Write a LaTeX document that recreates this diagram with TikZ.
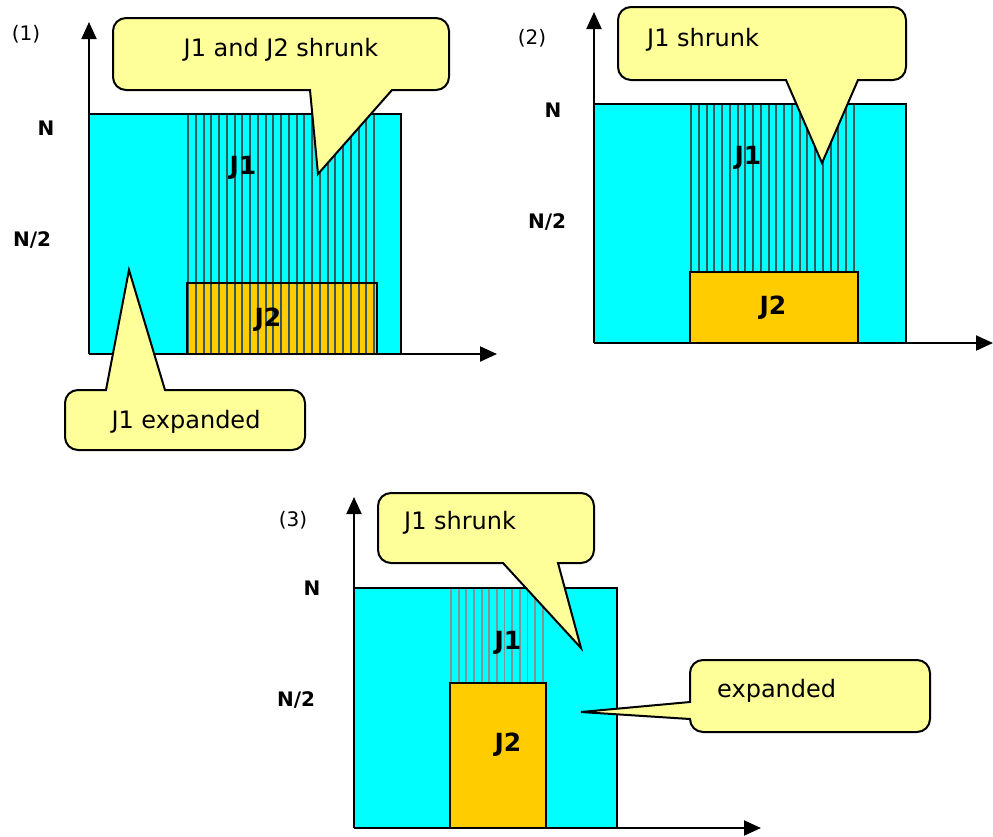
\documentclass[tikz,border=0pt]{standalone}
\usepackage{fontspec}
\setmainfont{DejaVu Sans}
\usetikzlibrary{arrows.meta}

\definecolor{boxcyan}{HTML}{00FFFF}
\definecolor{jobgold}{HTML}{FFCC00}
\definecolor{noteyellow}{HTML}{FFFF99}
\definecolor{hatchdark}{HTML}{345A5A}
\definecolor{hatchlight}{HTML}{7F9494}

\begin{document}
\begin{tikzpicture}[x=1pt, y=-1pt,
    axis/.style={line width=2pt, -{Triangle[length=17pt,width=15pt]}},
    machine/.style={fill=boxcyan},
    edge/.style={line width=2pt},
    jobbox/.style={fill=jobgold, draw=black, line width=2pt},
    hatch/.style={draw=hatchdark, line width=2pt},
    hatchsoft/.style={draw=hatchlight, line width=1.8pt},
    note/.style={draw=black, fill=noteyellow, line width=2pt, line join=miter},
    notetext/.style={font=\fontsize{24}{28}\selectfont, inner sep=0pt},
    joblabel/.style={font=\fontsize{25}{28}\selectfont\bfseries, inner sep=0pt},
    ticklabel/.style={font=\fontsize{20}{24}\selectfont\bfseries, inner sep=0pt},
    panel/.style={font=\fontsize{20}{24}\selectfont, inner sep=0pt}]
    \useasboundingbox (0,0) rectangle (993,836);

    % ---------------- (1) ----------------
    % Draw the machine area
    \fill[machine] (89,114) rectangle (401,354);
    \fill[jobgold] (187,283) rectangle (377,354);
    % J1 stripes over the whole middle part
    \foreach \k in {0,...,24}
        \draw[hatch] ({188+7.75*\k},114) -- ++(0,240);
    \draw[jobbox, fill=none] (187,283) rectangle (377,354);
    \draw[edge] (89,114) -- (401,114) -- (401,354);
    % Draw the axes
    \draw[axis] (89,354) -- (89,22);
    \draw[axis] (89,354) -- (497,354);
    \node[panel] (pa) at (26,34) {(1)};
    \node[ticklabel] (na) at (46,128) {N};
    \node[ticklabel] (ha) at (32,240) {N/2};
    \node[joblabel] (ja) at (243,168) {J1};
    \node[joblabel] (ka) at (268,320) {J2};
    % Callouts
    \draw[note] (318,174) -- (392,90)
        {[rounded corners=13pt] -- (449,90) -- (449,18) -- (113,18) -- (113,90)} -- (310,90) -- cycle;
    \node[notetext] (ca) at (281,50) {J1 and J2 shrunk};
    \draw[note] (129,270) -- (106,390)
        {[rounded corners=13pt] -- (65,390) -- (65,450) -- (305,450) -- (305,390)} -- (165,390) -- cycle;
    \node[notetext] (ea) at (186,422) {J1 expanded};

    % ---------------- (2) ----------------
    \fill[machine] (594,104) rectangle (906,343);
    \foreach \k in {0,...,21}
        \draw[hatch] ({691+7.75*\k},104) -- ++(0,168);
    \draw[jobbox] (690,272) rectangle (858,343);
    \draw[edge] (594,104) -- (906,104) -- (906,343);
    \draw[axis] (594,343) -- (594,12);
    \draw[axis] (594,343) -- (993,343);
    \node[panel] (pb) at (532,38) {(2)};
    \node[ticklabel] (nb) at (553,110) {N};
    \node[ticklabel] (hb) at (547,222) {N/2};
    \node[joblabel] (jb) at (748,158) {J1};
    \node[joblabel] (kb) at (773,308) {J2};
    \draw[note] (822,163) -- (858,80)
        {[rounded corners=13pt] -- (906,80) -- (906,7) -- (618,7) -- (618,80)} -- (786,80) -- cycle;
    \node[notetext, anchor=west] (cb) at (647,40) {J1 shrunk};

    % ---------------- (3) ----------------
    \fill[machine] (354,588) rectangle (617,828);
    \foreach \k in {0,...,12}
        \draw[hatchsoft] ({451+7.65*\k},588) -- ++(0,95);
    \draw[jobbox] (450,683) rectangle (546,828);
    \draw[edge] (354,588) -- (617,588) -- (617,828);
    \draw[axis] (354,828) -- (354,497);
    \draw[axis] (354,828) -- (761,828);
    \node[panel] (pc) at (293,520) {(3)};
    \node[ticklabel] (nc) at (312,588) {N};
    \node[ticklabel] (hc) at (296,700) {N/2};
    \node[joblabel] (jc) at (508,643) {J1};
    \node[joblabel] (kc) at (508,745) {J2};
    \draw[note] (581,648) -- (558,563)
        {[rounded corners=13pt] -- (594,563) -- (594,493) -- (378,493) -- (378,563)} -- (503,563) -- cycle;
    \node[notetext, anchor=west] (cc) at (404,523) {J1 shrunk};
    \draw[note] (581,712) -- (690,719)
        {[rounded corners=13pt] -- (690,732) -- (930,732) -- (930,660) -- (690,660)} -- (690,702) -- cycle;
    \node[notetext, anchor=west] (ec) at (717,691) {expanded};
\end{tikzpicture}
\end{document}
